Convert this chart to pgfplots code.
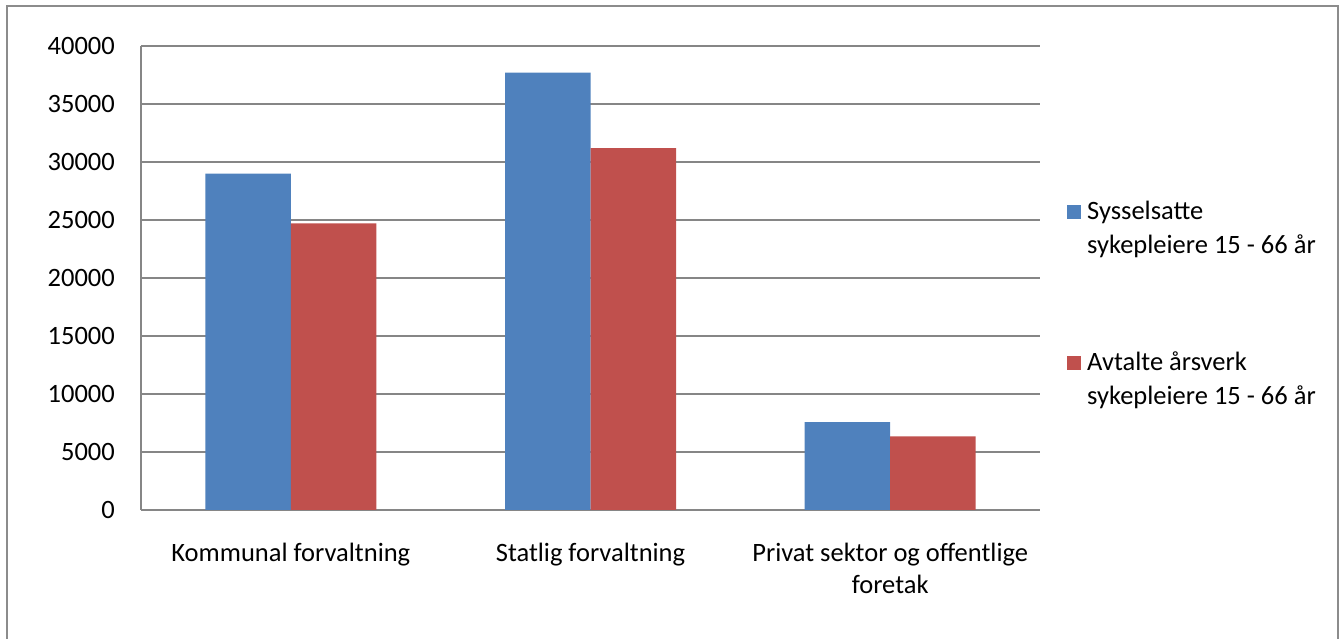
\documentclass[border=0pt]{standalone}
\usepackage{fontspec}
\setmainfont{Carlito}
\usepackage{pgfplots}
\pgfplotsset{compat=1.18}

\definecolor{serblue}{HTML}{4F81BD}
\definecolor{serred}{HTML}{C0504D}
\definecolor{gridgrey}{HTML}{868686}
\definecolor{framegrey}{HTML}{8C8C8C}

\begin{document}
\fontsize{26.5bp}{34bp}\selectfont
\begin{tikzpicture}[x=1bp,y=1bp]
\path[use as bounding box] (0,0) rectangle (1340,639);
% outer chart frame (bottom edge runs off the page)
\draw[framegrey, line width=2.5bp] (7,-20) -- (7,633) -- (1338,633) -- (1338,-20);

\begin{axis}[
  at={(141bp,129bp)}, anchor=south west,
  scale only axis,
  width=899bp, height=464bp,
  ybar=0pt, bar width=85.5bp,
  xmin=-0.5, xmax=2.5,
  ymin=0, ymax=40000,
  ytick={0,5000,...,40000},
  xtick={0,1,2},
  xticklabels={Kommunal forvaltning, Statlig forvaltning, {Privat sektor og offentlige\\foretak}},
  x tick label style={align=center, anchor=north, inner sep=0pt, yshift=-33bp,
    font=\fontsize{26.5bp}{32bp}\selectfont},
  y tick label style={anchor=east, inner sep=0pt, xshift=-26bp},
  scaled y ticks=false,
  yticklabel={\pgfmathprintnumber[1000 sep={},fixed]{\tick}},
  /pgf/number format/assume math mode=true,
  major tick length=0pt,
  tick style={draw=none},
  ymajorgrids,
  grid style={gridgrey, line width=1.6bp},
  axis x line*=bottom, axis y line*=left,
  axis line style={gridgrey, line width=1.6bp, -},
  legend cell align=left,
  legend style={at={(axis description cs:1.0300,0.678)}, anchor=north west,
    draw=none, fill=none, inner sep=0pt, row sep=123bp,
    nodes={inner sep=0pt, anchor=base west}},
  /tikz/every odd column/.append style={column sep=6bp},
]
\addplot[fill=serblue, draw=none,
  legend image code/.code={\fill[serblue] (0bp,0bp) rectangle (14bp,14bp);}]
  coordinates {(0,29000) (1,37700) (2,7570)};
\addplot[fill=serred, draw=none,
  legend image code/.code={\fill[serred] (0bp,0bp) rectangle (14bp,14bp);}]
  coordinates {(0,24700) (1,31200) (2,6340)};
\addlegendentry{\begin{tabular}[t]{@{}l@{}}Sysselsatte\\sykepleiere 15 - 66 år\end{tabular}}
\addlegendentry{\begin{tabular}[t]{@{}l@{}}Avtalte årsverk\\sykepleiere 15 - 66 år\end{tabular}}
\end{axis}
\end{tikzpicture}
\end{document}
